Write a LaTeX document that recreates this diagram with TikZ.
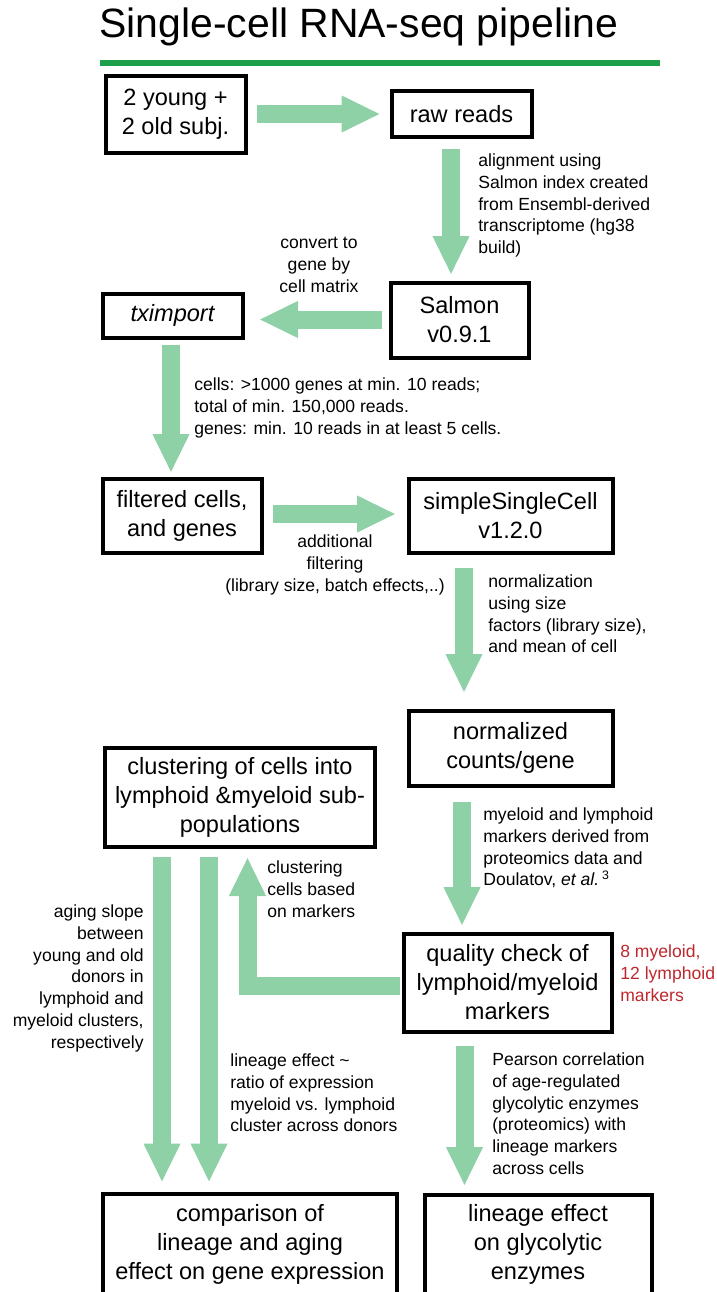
\documentclass[tikz,border=0pt]{standalone}
\usepackage{fontspec}
\setmainfont{Liberation Sans}
\usetikzlibrary{arrows.meta}
\definecolor{bargreen}{RGB}{30,160,75}
\definecolor{arrowgreen}{RGB}{143,209,166}
\definecolor{markred}{RGB}{192,39,45}

\begin{document}
\begin{tikzpicture}[x=0.2mm,y=-0.2mm,
  box/.style={draw,line width=0.8mm,align=center,inner sep=0pt,font=\fontsize{13.4}{16.5}\selectfont},
  note/.style={inner sep=0pt,font=\fontsize{10}{12.5}\selectfont},
  fat/.style={draw=arrowgreen,line width=3.6mm,-{Triangle[width=6.8mm,length=7.8mm]}}]
  \useasboundingbox (0,0) rectangle (717,1292);
  % title and bar
  \node[anchor=base west,inner sep=0pt,font=\fontsize{23.3}{28}\selectfont] (title) at (99,38) {Single-cell RNA-seq pipeline};
  \draw[bargreen,line width=1.3mm] (100,63) -- (660,63);
  % boxes
  \node[box,minimum width=28mm,minimum height=15.2mm] (young) at (175.5,114.5) {2 young +\\2 old subj.};
  \node[box,minimum width=28mm,minimum height=9mm] (raw) at (461.5,114) {raw reads};
  \node[box,minimum width=27.6mm,minimum height=15mm] (salmon) at (459.5,320) {Salmon\\v0.9.1};
  \node[box,minimum width=28mm,minimum height=8.8mm] (tximport) at (172.5,315.5) {\itshape tximport};
  \node[box,minimum width=31.8mm,minimum height=14.8mm] (filtered) at (182,515.5) {filtered cells,\\and genes};
  \node[box,minimum width=40.8mm,minimum height=14.8mm] (ssc) at (510.5,515.5) {simpleSingleCell\\v1.2.0};
  \node[box,minimum width=40.8mm,minimum height=15mm] (normalized) at (510.5,748) {normalized\\counts/gene};
  \node[box,minimum width=53.8mm,minimum height=19.8mm] (clustering) at (240,797) {clustering of cells into\\lymphoid \&myeloid sub-\\populations};
  \node[box,minimum width=41.6mm,minimum height=19.6mm] (quality) at (507.5,982.5) {quality check of\\lymphoid/myeloid\\markers};
  \node[box,minimum width=58.6mm,minimum height=20.2mm] (comparison) at (250,1244.5) {comparison of\\lineage and aging\\effect on gene expression};
  \node[box,minimum width=45.4mm,minimum height=20mm] (lineage) at (538,1244.5) {lineage effect\\on glycolytic\\enzymes};
  % arrows
  \draw[fat,shorten <=1.8mm,shorten >=1.8mm] (young.east |- 0,114) -- (raw.west |- 0,114);
  \draw[fat,shorten <=2.1mm,shorten >=1.1mm] (451,0 |- raw.south) -- (451,0 |- salmon.north);
  \draw[fat,shorten <=1.3mm,shorten >=2.9mm] (salmon.west |- 0,319.5) -- (tximport.east |- 0,319.5);
  \draw[fat,shorten <=1.1mm,shorten >=0.7mm] (171,0 |- tximport.south) -- (171,0 |- filtered.north);
  \draw[fat,shorten <=1.9mm,shorten >=2.1mm] (filtered.east |- 0,514) -- (ssc.west |- 0,514);
  \draw[fat,shorten <=2.7mm,shorten >=3.1mm] (464,0 |- ssc.south) -- (464,0 |- normalized.north);
  \draw[fat,shorten <=2.9mm,shorten >=1.1mm] (462,0 |- normalized.south) -- (462,0 |- quality.north);
  \draw[fat,shorten <=0.4mm,shorten >=1.7mm] (quality.west |- 0,986) -| (247.5,0 |- clustering.south);
  \draw[fat,shorten <=1.7mm,shorten >=1.9mm] (162,0 |- clustering.south) -- (162,0 |- comparison.north);
  \draw[fat,shorten <=1.7mm,shorten >=1.9mm] (209,0 |- clustering.south) -- (209,0 |- comparison.north);
  \draw[fat,shorten <=2.5mm,shorten >=1.3mm] (464.5,0 |- quality.south) -- (464.5,0 |- lineage.north);
  % arrow labels
  \node[note,anchor=north west,align=left] (alignnote) at (478,153) {alignment using\\Salmon index created\\from Ensembl-derived\\transcriptome (hg38\\build)};
  \node[note,anchor=north,align=center] (convertnote) at (319,237) {convert to\\gene by\\cell matrix};
  \node[note,anchor=north west,align=left] (filternote) at (194,377) {cells: >1000 genes at min. 10 reads;\\total of min. 150,000 reads.\\genes: min. 10 reads in at least 5 cells.};
  \node[note,anchor=north,align=center] (extranote) at (335,534) {additional\\filtering\\(library size, batch effects,..)};
  \node[note,anchor=north west,align=left] (normnote) at (488,574) {normalization\\using size\\factors (library size),\\and mean of cell};
  \node[note,anchor=north west,align=left] (markernote) at (483,807) {myeloid and lymphoid\\markers derived from\\proteomics data and\\Doulatov, \textit{et al.}\,\textsuperscript{3}};
  \node[note,anchor=north west,align=left] (clusternote) at (267,860) {clustering\\cells based\\on markers};
  \node[note,anchor=north east,align=right] (agingnote) at (144,904) {aging slope\\between\\young and old\\donors in\\lymphoid and\\myeloid clusters,\\respectively};
  \node[note,anchor=north west,align=left,text=markred] (countnote) at (620,944) {8 myeloid,\\12 lymphoid\\markers};
  \node[note,anchor=north west,align=left] (rationote) at (230,1053) {lineage effect \textasciitilde\\ratio of expression\\myeloid vs. lymphoid\\cluster across donors};
  \node[note,anchor=north west,align=left] (pearsonnote) at (492,1052) {Pearson correlation\\of age-regulated\\glycolytic enzymes\\(proteomics) with\\lineage markers\\across cells};
\end{tikzpicture}
\end{document}
